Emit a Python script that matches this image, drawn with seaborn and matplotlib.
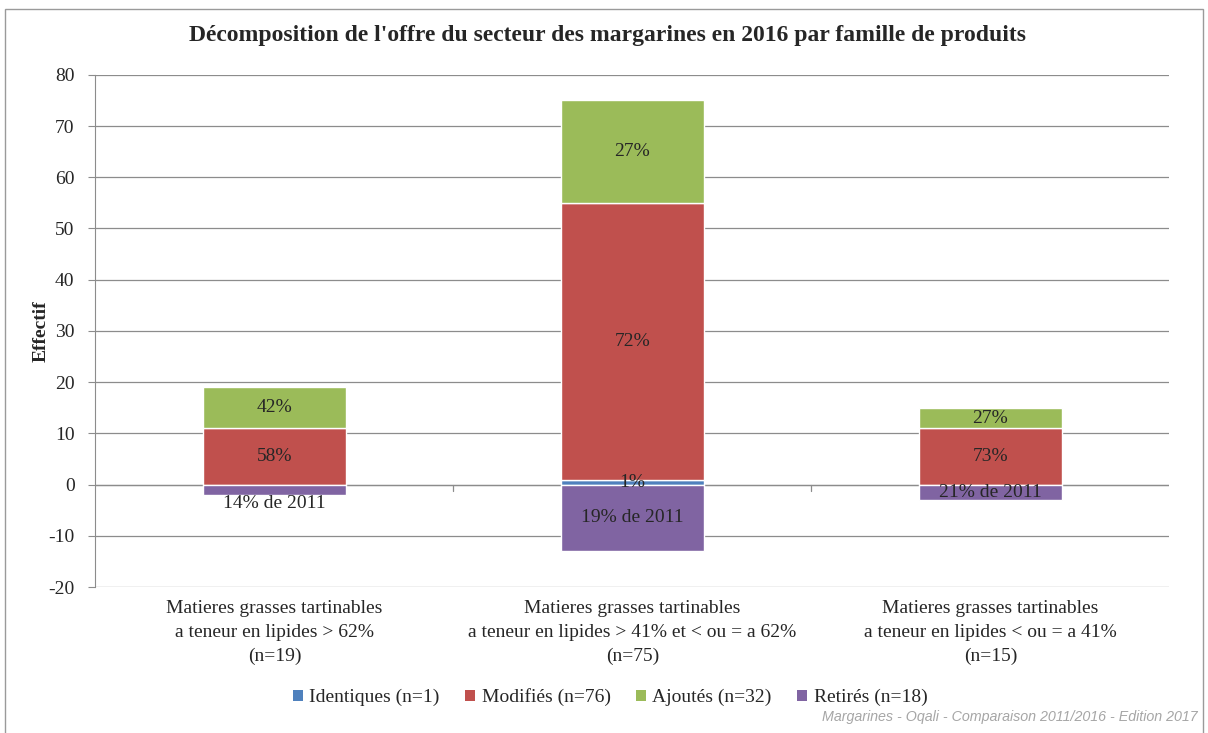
import pandas as pd
import numpy as np
import matplotlib.pyplot as plt
import seaborn as sns
from matplotlib.patches import Patch, Rectangle

categories = [
    "Matieres grasses tartinables\na teneur en lipides > 62%\n(n=19)",
    "Matieres grasses tartinables\na teneur en lipides > 41% et < ou = a 62%\n(n=75)",
    "Matieres grasses tartinables\na teneur en lipides < ou = a 41%\n(n=15)",
]
identiques = [0, 1, 0]
modifies = [11, 54, 11]
ajoutes = [8, 20, 4]
retires = [-2, -13, -3]

identiques_labels = ["", "1%", ""]
modifies_labels = ["58%", "72%", "73%"]
ajoutes_labels = ["42%", "27%", "27%"]
retires_labels = ["14% de 2011", "19% de 2011", "21% de 2011"]

legend_labels = ["Identiques (n=1)", "Modifiés (n=76)", "Ajoutés (n=32)", "Retirés (n=18)"]
colors = ["#4F81BD", "#C0504D", "#9BBB59", "#8064A2"]
yticks = list(range(-20, 81, 10))

sns.set_style("white")
plt.rcParams['font.family'] = ['Liberation Serif', 'DejaVu Serif']
plt.rcParams['axes.unicode_minus'] = False

fig = plt.figure(figsize=(12.08, 7.33), dpi=100)
ax = fig.add_axes([0.079, 0.199, 0.889, 0.699])

series = [
    (identiques, np.zeros(3), identiques_labels),
    (modifies, np.array(identiques), modifies_labels),
    (ajoutes, np.array(identiques) + np.array(modifies), ajoutes_labels),
    (retires, np.zeros(3), retires_labels),
]

for (vals, bottom, labels), col in zip(series, colors):
    df = pd.DataFrame({"cat": categories, "val": vals})
    sns.barplot(data=df, x="cat", y="val", bottom=bottom, color=col, width=0.4,
                saturation=1, edgecolor="white", linewidth=1, ax=ax, zorder=3)
    for i, (v, b, lab) in enumerate(zip(vals, bottom, labels)):
        if not lab:
            continue
        if v < 0 and abs(v) < 2.5:
            ax.text(i, b + v, lab, ha="center", va="top", fontsize=14, zorder=5)
        else:
            ax.text(i, b + v / 2, lab, ha="center", va="center", fontsize=14, zorder=5)

ax.set_ylim(-20, 80)
ax.set_xlim(-0.5, 2.5)
ax.set_yticks(yticks)
ax.yaxis.grid(True, color="#8c8c8c", linewidth=0.9)
ax.set_axisbelow(True)
for s in ["top", "right", "bottom"]:
    ax.spines[s].set_visible(False)
ax.spines["left"].set_color("#8c8c8c")
ax.axhline(0, color="#8c8c8c", linewidth=0.9, zorder=2)
for xb in [0.5, 1.5]:
    ax.plot([xb, xb], [0, -1.2], color="#8c8c8c", linewidth=0.9, clip_on=False, zorder=2)
ax.tick_params(axis="y", length=5, color="#8c8c8c", labelsize=14, left=True, pad=10)
ax.tick_params(axis="x", length=0, labelsize=14, pad=9)
for t in ax.get_xticklabels():
    t.set_linespacing(1.55)
ax.set_xlabel("")
ax.set_ylabel("Effectif", fontsize=14, fontweight="bold", labelpad=-1)

fig.suptitle("Décomposition de l'offre du secteur des margarines en 2016 par famille de produits",
             x=0.503, y=0.952, fontsize=17, fontweight="bold", va="center")

handles = [Patch(facecolor=c, edgecolor="none") for c in colors]
fig.legend(handles, legend_labels, loc="center", bbox_to_anchor=(0.505, 0.049), ncol=4,
           frameon=False, fontsize=14, handlelength=0.5, handleheight=0.5,
           handletextpad=0.35, columnspacing=1.3)

fig.text(0.991, 0.012, "Margarines - Oqali - Comparaison 2011/2016 - Edition 2017",
         ha="right", va="bottom", fontsize=10.3, style="italic", color="#a6a6a6",
         family=['Liberation Sans Narrow', 'Liberation Sans', 'DejaVu Sans'])

fig.patches.append(Rectangle((0.004, -0.01), 0.992, 0.998, transform=fig.transFigure,
                             fill=False, edgecolor="#9a9a9a", linewidth=1))

fig.savefig("out.png", dpi=100)
